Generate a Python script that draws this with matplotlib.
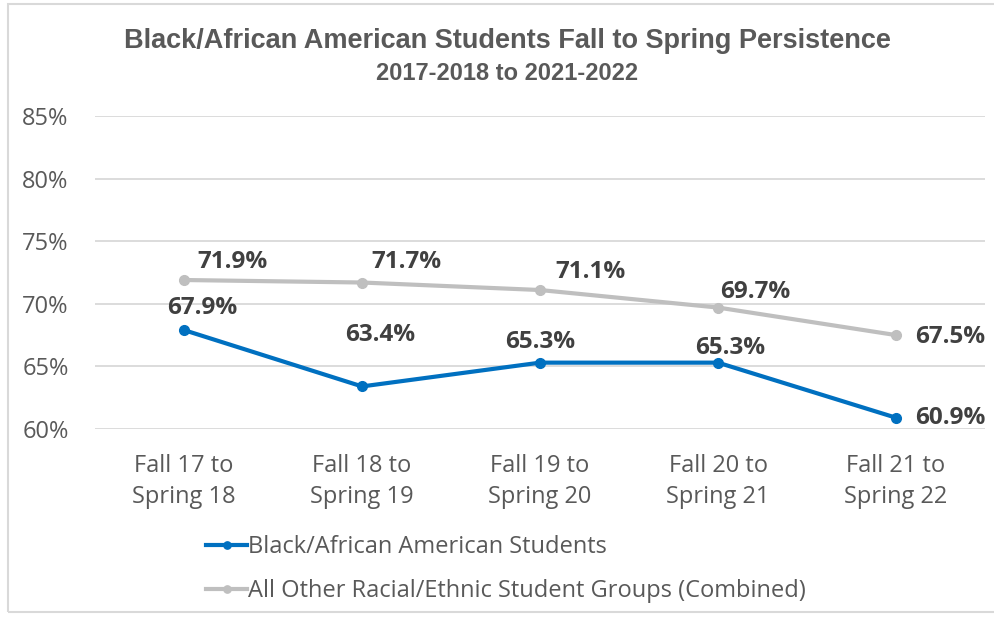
import matplotlib.pyplot as plt
from matplotlib.patches import Rectangle

# data
categories = ["Fall 17 to\nSpring 18", "Fall 18 to\nSpring 19", "Fall 19 to\nSpring 20",
              "Fall 20 to\nSpring 21", "Fall 21 to\nSpring 22"]
black_students = [67.9, 63.4, 65.3, 65.3, 60.9]
other_students = [71.9, 71.7, 71.1, 69.7, 67.5]
yticks = [60, 65, 70, 75, 80, 85]

blue = "#0070C0"
grey = "#BFBFBF"
label_col = "#404040"
tick_col = "#595959"

plt.rcParams['font.family'] = ["Open Sans", "DejaVu Sans"]

fig = plt.figure(figsize=(9.95, 6.17), dpi=100)
ax = fig.add_axes([0.0955, 0.3047, 0.8945, 0.5073])

x = list(range(len(categories)))
ax.plot(x, other_students, color=grey, lw=3, marker="o", ms=7,
        label="All Other Racial/Ethnic Student Groups (Combined)", zorder=3)
ax.plot(x, black_students, color=blue, lw=3, marker="o", ms=7,
        label="Black/African American Students", zorder=4)

# label offsets in pixels (hand placed like the original)
black_off = [(18, 22), (18, 51), (0, 21), (12, 15), (54, 0)]
other_off = [(48, 18), (44, 21), (50, 18), (37, 16), (54, -2)]
for i, v in enumerate(black_students):
    ax.annotate("%.1f%%" % v, (i, v), xytext=black_off[i], textcoords="offset pixels",
                ha="center", va="center", fontsize=17.5, fontweight="bold", color=label_col)
for i, v in enumerate(other_students):
    ax.annotate("%.1f%%" % v, (i, v), xytext=other_off[i], textcoords="offset pixels",
                ha="center", va="center", fontsize=17.5, fontweight="bold", color=label_col)

ax.set_xlim(-0.5, len(categories) - 0.5)
ax.set_ylim(60, 85)
ax.set_yticks(yticks)
ax.set_yticklabels(["%d%%" % t for t in yticks])
ax.set_xticks(x)
ax.set_xticklabels(categories, linespacing=1.4)
ax.tick_params(axis="both", length=0, labelsize=17, labelcolor=tick_col)
ax.tick_params(axis="y", pad=19)
ax.tick_params(axis="x", pad=18)
ax.grid(axis="y", color="#D9D9D9", lw=1.3)
ax.set_axisbelow(True)
for s in ax.spines.values():
    s.set_visible(False)

handles, labels = ax.get_legend_handles_labels()
leg = fig.legend(handles[::-1], labels[::-1], loc="upper left", bbox_to_anchor=(0.198, 0.148),
                 frameon=False, fontsize=17, handlelength=1.7, handletextpad=0.05,
                 labelspacing=0.85, borderaxespad=0, markerscale=0.75)
for t in leg.get_texts():
    t.set_color(tick_col)

fig.text(0.51, 0.934, "Black/African American Students Fall to Spring Persistence",
         ha="center", va="center", fontsize=19.5, fontweight="bold", color=tick_col,
         family=["Liberation Sans", "DejaVu Sans"])
fig.text(0.51, 0.881, "2017-2018 to 2021-2022", ha="center", va="center", fontsize=17,
         fontweight="bold", color=tick_col, family=["Liberation Sans", "DejaVu Sans"])

fig.patches.append(Rectangle((0.008, 0.008), 1.2, 0.985, transform=fig.transFigure,
                             fill=False, edgecolor="#D9D9D9", lw=1.5))

fig.savefig("out.png", dpi=100)
